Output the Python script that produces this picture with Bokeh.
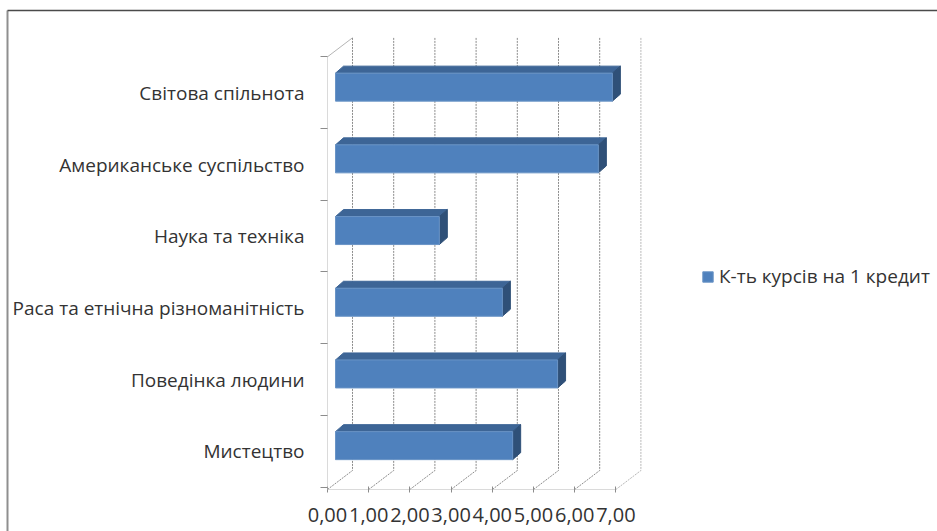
from bokeh.plotting import figure
from bokeh.embed import file_html
from bokeh.resources import INLINE
from bokeh.models import (Range1d, LinearAxis, FixedTicker, Legend, LegendItem, AllLabels)

categories = ["Мистецтво", "Поведінка людини", "Раса та етнічна різноманітність",
              "Наука та техніка", "Американське суспільство", "Світова спільнота"]
values = [4.30, 5.39, 4.05, 2.52, 6.38, 6.72]
x_tick_values = [0, 1, 2, 3, 4, 5, 6, 7]
x_tick_labels = ["0,00", "1,00", "2,00", "3,00", "4,00", "5,00", "6,00", "7,00"]
series_name = "К-ть курсів на 1 кредит"

W, H = 937, 531
ORIGIN_X, ORIGIN_Y = 327, 489            # canvas px of the value/category origin
PX_X, PX_Y = 41.2, 71.7                  # px per value unit / per category
FONT = "Open Sans"
TEXT = "#333333"

x0, x1 = -ORIGIN_X / PX_X, (W - ORIGIN_X) / PX_X
y0, y1 = -(H - ORIGIN_Y) / PX_Y, ORIGIN_Y / PX_Y
p = figure(width=W, height=H, output_backend="svg", toolbar_location=None,
           min_border_left=0, min_border_right=0, min_border_top=0, min_border_bottom=0,
           x_range=Range1d(x0, x1), y_range=Range1d(y0, y1),
           x_axis_type=None, y_axis_type=None,
           outline_line_color=None, background_fill_color="white")
p.xgrid.visible = False
p.ygrid.visible = False

# chart frame: left and top rules only
fx = (7 - ORIGIN_X) / PX_X
fy = (ORIGIN_Y - 10) / PX_Y
p.line([fx, fx], [y0, fy], line_color="#8f8f8f", line_width=2)
p.line([fx, x1], [fy, fy], line_color="#4a4a4a", line_width=1.5)

# depth of the plot box, in data units
DX, DY = 25 / PX_X, 19 / PX_Y
TICK_SHIFT = 2.5 / PX_Y
TOP = 6.0 + TICK_SHIFT
n = len(categories)

# back wall gridlines with slanted floor part
gx, gy = [], []
for t in x_tick_values[:-1]:
    gx.append([t, t + DX, t + DX])
    gy.append([0, DY, TOP + DY])
p.multi_line(gx, gy, line_color="#8c8c8c", line_width=1, line_dash="2 1")
last = x_tick_values[-1]
p.line([last, last + DX, last + DX], [0, DY, TOP + DY], line_color="#b8b8b8", line_width=1, line_dash="2 1")
p.line([0, DX], [TOP, TOP + DY], line_color="#b5b5b5", line_width=1)

# bars (pseudo 3D)
bx, by = 8 / PX_X, 7 / PX_Y
half = 14 / PX_Y
shift = 8 / PX_Y
xs_top, ys_top, xs_side, ys_side = [], [], [], []
lefts, rights, bottoms, tops = [], [], [], []
for i, v in enumerate(values):
    c = i + 0.5 + shift
    l, r = bx, bx + v
    lefts.append(l); rights.append(r); bottoms.append(c - half); tops.append(c + half)
    xs_top.append([l, l + bx, r + bx, r])
    ys_top.append([c + half, c + half + by, c + half + by, c + half])
    xs_side.append([r, r + bx, r + bx, r])
    ys_side.append([c - half, c - half + by, c + half + by, c + half])
p.patches(xs_top, ys_top, fill_color="#3d6596", line_color="#3d6596")
p.patches(xs_side, ys_side, fill_color="#2f5078", line_color="#2f5078")
front = p.quad(left=lefts, right=rights, bottom=bottoms, top=tops,
               fill_color="#4f81bd", line_color="#6a94c6", line_width=1)

# axes, pinned to the origin inside a frame that fills the canvas
xa = LinearAxis(ticker=FixedTicker(ticks=x_tick_values),
                major_label_overrides={t: s for t, s in zip(x_tick_values, x_tick_labels)},
                major_label_policy=AllLabels(), fixed_location=0,
                major_label_text_font=FONT, major_label_text_font_size="20px",
                major_label_text_color=TEXT, major_label_standoff=15,
                axis_line_color="#b5b5b5", axis_line_dash="1 1",
                major_tick_line_color="#8c8c8c", major_tick_in=3, major_tick_out=3,
                minor_tick_line_color=None, bounds=(0, 7))
p.add_layout(xa, "below")

label_pos = [i + 0.53 for i in range(n)]
ya = LinearAxis(ticker=FixedTicker(ticks=label_pos, minor_ticks=[i + TICK_SHIFT for i in range(n + 1)]),
                major_label_overrides={q: s for q, s in zip(label_pos, categories)},
                major_label_policy=AllLabels(), fixed_location=0,
                major_label_text_font=FONT, major_label_text_font_size="19px",
                major_label_text_color=TEXT, major_label_standoff=16,
                axis_line_color="#b5b5b5", axis_line_dash="1 1",
                major_tick_line_color=None, major_tick_in=0, major_tick_out=0,
                minor_tick_line_color="#8c8c8c", minor_tick_in=0, minor_tick_out=7,
                bounds=(0, TOP))
p.add_layout(ya, "left")

# legend
legend = Legend(items=[LegendItem(label=series_name, renderers=[front])],
                location=(701, 242), orientation="vertical",
                border_line_color=None, background_fill_alpha=0,
                glyph_width=13, glyph_height=13, label_standoff=5,
                padding=4, margin=0, label_text_font=FONT, label_text_font_size="19px",
                label_text_color=TEXT)
p.add_layout(legend, "center")

open("out.html", "w").write(file_html(p, INLINE))
